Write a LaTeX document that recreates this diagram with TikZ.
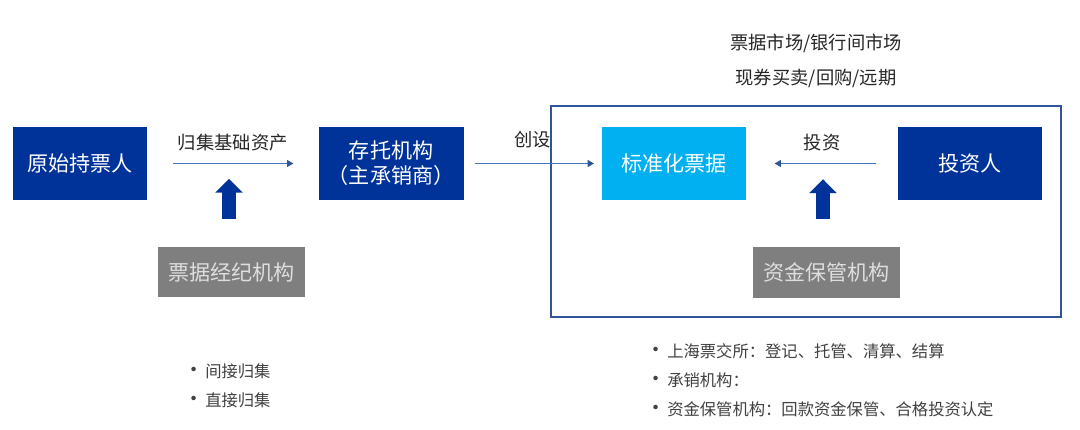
\documentclass[tikz,border=0pt]{standalone}
\usepackage{fontspec}
\setmainfont{Noto Sans CJK SC}
\usetikzlibrary{positioning, arrows.meta}

\definecolor{boxblue}{RGB}{0,51,153}
\definecolor{billcyan}{RGB}{0,176,240}
\definecolor{boxgrey}{RGB}{127,127,127}
\definecolor{greytext}{RGB}{222,222,222}
\definecolor{lineblue}{RGB}{68,114,196}
\definecolor{tipblue}{RGB}{47,85,151}
\definecolor{labelgrey}{RGB}{38,38,38}
\definecolor{notegrey}{RGB}{64,64,64}

\newcommand\dotmark{\makebox[0.4cm][l]{\hspace{-0.15cm}{\fontsize{15}{15}\selectfont •}}}

\begin{document}
\begin{tikzpicture}[
    x=0.025cm, y=-0.025cm,
    box/.style={fill=boxblue, text=white, minimum width=3.625cm, minimum height=1.825cm,
      inner sep=0pt, align=center, font=\fontsize{15}{17.8}\selectfont},
    grey box/.style={fill=boxgrey, text=greytext, minimum width=3.675cm, minimum height=1.25cm,
      inner sep=0pt, font=\fontsize{15}{17.8}\selectfont},
    flow/.style={draw=lineblue, line width=0.7pt, -{Triangle[length=4.5pt, width=5pt, color=tipblue]}},
    lift/.style={draw=boxblue, line width=0.35cm, -{Triangle[length=0.35cm, width=0.675cm]}},
    tag/.style={inner sep=0pt, text=labelgrey, font=\fontsize{13}{15}\selectfont},
    note/.style={inner sep=0pt, text=notegrey, font=\fontsize{11.6}{21.3}\selectfont}]

  \useasboundingbox (0,0) rectangle (1080,429);

  % market frame
  \draw[tipblue, line width=1pt] (551,106) rectangle (1061,317);
  \node[tag] at (816,43) (market) {票据市场/银行间市场};
  \node[tag, below=0.4cm of market] (trade) {现券买卖/回购/远期};

  % issuing chain
  \node[box, minimum width=3.35cm] at (80,163.5) (holder) {原始持票人};
  \node[box, right=4.275cm of holder] (depo) {存托机构\\（主承销商）};
  \node[box, right=3.45cm of depo, fill=billcyan, minimum width=3.6cm] (bill) {标准化票据};
  \node[box, right=3.775cm of bill, minimum width=3.6cm] (investor) {投资人};

  \node[grey box] at (231.5,272) (broker) {票据经纪机构};
  \node[grey box] at (826.5,272.5) (custody) {资金保管机构};

  \draw[flow, shorten <=0.65cm, shorten >=0.625cm] (holder) -- (depo)
    node[midway, tag, above=0.3cm] (gather) {归集基础资产};
  \draw[flow, shorten <=0.275cm, shorten >=0.2cm] (depo) -- (bill)
    node[midway, tag, above=0.375cm] (create) {创设};
  \draw[flow, shorten <=0.55cm, shorten >=0.7cm] (investor) -- (bill)
    node[midway, tag, above=0.3cm] (invest) {投资};

  \draw[lift] ([xshift=-0.0625cm, yshift=0.7cm]broker.north) -- ++(0,-40);
  \draw[lift] ([xshift=-0.0875cm, yshift=0.7cm]custody.north) -- ++(0,-40);

  % notes
  \node[note, anchor=west] at (189,386) (gather-notes) {%
    \begin{tabular}{@{}l@{}l@{}}
      \dotmark & 间接归集 \\
      \dotmark & 直接归集
    \end{tabular}};
  \node[note, anchor=west, font=\fontsize{11.6}{20.6}\selectfont] at (651,381) (market-notes) {%
    \begin{tabular}{@{}l@{}l@{}}
      \dotmark & 上海票交所：登记、托管、清算、结算 \\
      \dotmark & 承销机构： \\
      \dotmark & 资金保管机构：回款资金保管、合格投资认定
    \end{tabular}};
\end{tikzpicture}
\end{document}
